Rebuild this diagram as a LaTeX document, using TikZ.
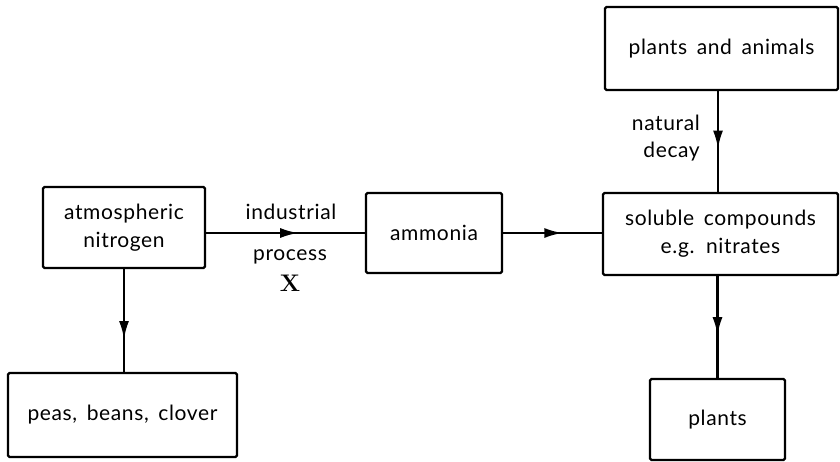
\documentclass[tikz,border=0pt]{standalone}
\usepackage{fontspec}
\setmainfont[LetterSpace=3,WordSpace=1.6]{Lato}
\newfontfamily\xfont{Latin Modern Roman}
\usetikzlibrary{arrows.meta,decorations.markings}
\begin{document}
\begin{tikzpicture}[x=1pt,y=-1pt,
  box/.style={draw,line width=2.2pt,rounded corners=1.5pt,align=center,inner sep=0pt,font=\fontsize{21}{28}\selectfont},
  lbl/.style={font=\fontsize{21}{24}\selectfont,inner sep=0pt},
  flow/.style={line width=2.2pt,postaction={decorate},decoration={markings,mark=at position #1 with {\arrow{Latex[length=18pt,width=10pt]}}}},
  flow/.default=0.56]
\useasboundingbox (0,0) rectangle (840,461);
\node[box,minimum width=162pt,minimum height=81pt] (atm) at (124,227.5) {atmospheric\\nitrogen};
\node[box,minimum width=229pt,minimum height=84pt] (peas) at (122.5,415) {peas, beans, clover};
\node[box,minimum width=136pt,minimum height=80pt] (amm) at (434,233) {ammonia};
\node[box,minimum width=235pt,minimum height=82pt] (sol) at (720.5,234) {soluble compounds\\e.g. nitrates};
\node[box,minimum width=233pt,minimum height=83pt] (pa) at (721.5,48.5) {plants and animals};
\node[box,minimum width=135pt,minimum height=81pt] (pl) at (717.5,419.5) {plants};
\draw[flow=0.58] (atm.east|-amm.west) -- (amm.west);
\draw[flow=0.6] (amm.east) -- (amm.east-|sol.west);
\draw[flow=0.57] (pa.south-|718,0) coordinate (pas) -- (pas|-sol.north);
\draw[flow=0.58] (pl.north|-sol.south) -- (pl.north);
\draw[flow=0.68] (atm.south) -- (atm.south|-peas.north);
\node[lbl] (ind) at (291,212) {industrial};
\node[lbl] (proc) at (290,257) {process};
\node[lbl,font=\fontsize{24}{24}\xfont\bfseries] (x) at (290,283) {X};
\node[lbl,anchor=east] (nat) at (700,123) {natural};
\node[lbl,anchor=east] (dec) at (700,152) {decay};
\end{tikzpicture}
\end{document}
